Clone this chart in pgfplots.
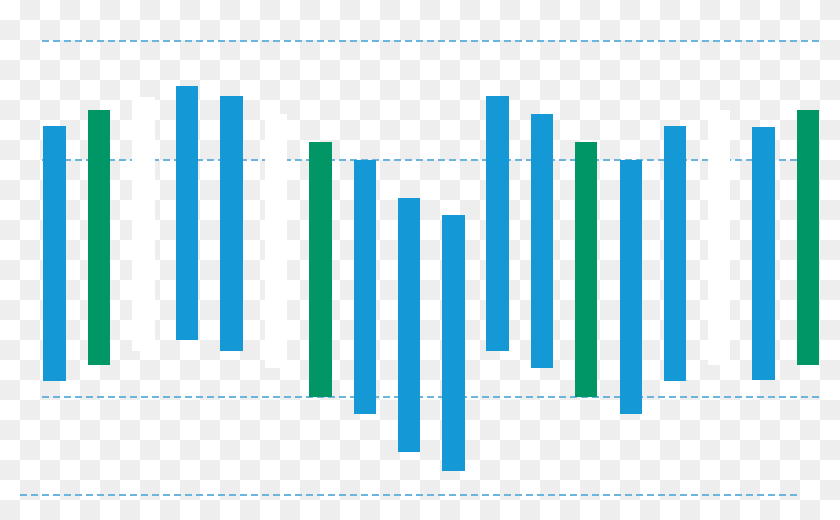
\documentclass[border=0pt]{standalone}
\usepackage{pgfplots}
\pgfplotsset{compat=1.18}
\definecolor{barblue}{HTML}{1599D6}
\definecolor{bargreen}{HTML}{009665}
\definecolor{gridblue}{HTML}{6BB4DE}
\definecolor{checker}{HTML}{EEEEEE}
\begin{document}
\begin{tikzpicture}
% 1 px of the reference = 0.5pt
\clip (0,0) rectangle (420pt,259.5pt);
% transparency checkerboard behind the chart, 20px squares
\foreach \i in {0,...,41}{
  \foreach \j in {0,...,25}{
    \pgfmathparse{int(mod(\i+\j,2))}
    \ifnum\pgfmathresult=1
      \fill[checker] (10pt*\i,259.5pt-10pt*\j) rectangle ++(10pt,-10pt);
    \fi
  }
}
\begin{axis}[
  at={(0,0)}, anchor=south west,
  scale only axis,
  width=420pt, height=259.5pt,
  xmin=0, xmax=840, ymin=0, ymax=519,
  hide axis,
  clip=false,
  error bars/y dir=plus,
  error bars/y explicit,
  error bars/error mark=none,
]
% dashed guide lines
\addplot [gridblue, line width=0.75pt, dash pattern=on 3.5pt off 2pt] coordinates {(42,478) (820,478)};
\addplot [gridblue, line width=0.75pt, dash pattern=on 3.5pt off 2pt] coordinates {(42,359) (820,359)};
\addplot [gridblue, line width=0.75pt, dash pattern=on 3.5pt off 2pt] coordinates {(42,122) (820,122)};
\addplot [gridblue, line width=0.75pt, dash pattern=on 3.5pt off 2pt] coordinates {(20,24) (798,24)};
% floating bars: x centre, bottom, height
\addplot [draw=none, mark=none, error bars/error bar style={white, line width=11.25pt}]
  table [x=x, y=bot, y error=h] {
x bot h
143.5 168 254
276.0 151 254
719.0 154 255
};
\addplot [draw=none, mark=none, error bars/error bar style={barblue, line width=11.25pt}]
  table [x=x, y=bot, y error=h] {
x bot h
54.5 138 255
187.0 179 254
231.5 168 255
365.0 105 254
409.0 67 254
453.5 48 256
497.5 168 255
542.0 151 254
631.0 105 254
675.0 138 255
763.5 139 253
};
\addplot [draw=none, mark=none, error bars/error bar style={bargreen, line width=11.25pt}]
  table [x=x, y=bot, y error=h] {
x bot h
99.0 154 255
320.5 122 255
586.0 122 255
808.0 154 255
};
\end{axis}
\end{tikzpicture}
\end{document}
